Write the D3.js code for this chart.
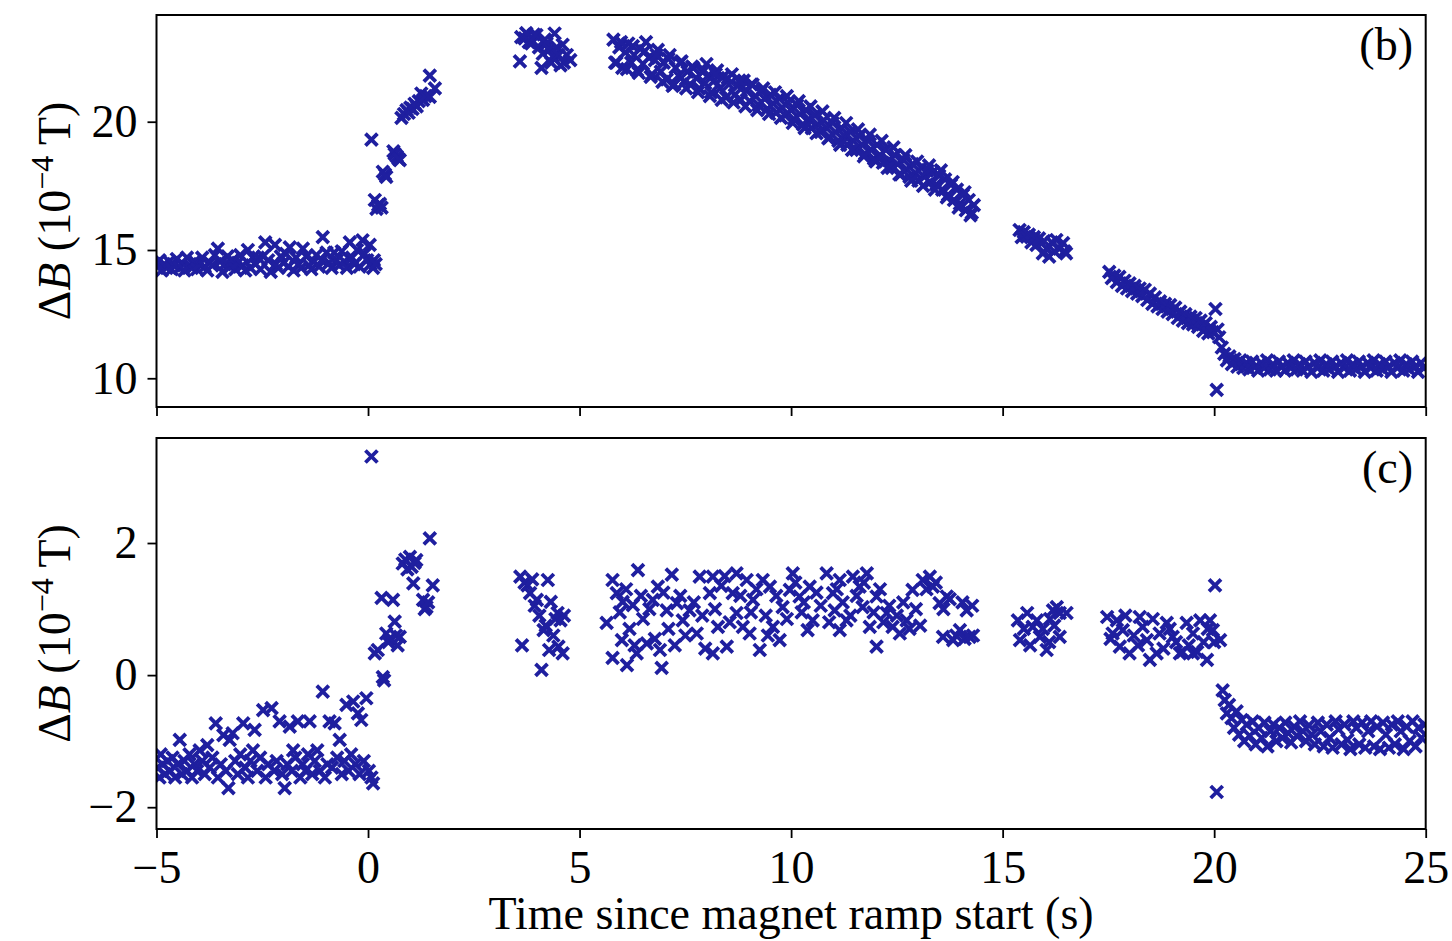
<!DOCTYPE html>
<html><head><meta charset="utf-8">
<script src="https://cdn.jsdelivr.net/npm/d3@7"></script>
<style>body{margin:0;background:#fff}</style>
</head><body><svg id="chart" width="1452" height="941"></svg>
<script>
// ---------- data ----------
const xTicks = [-5, 0, 5, 10, 15, 20, 25];
const bTicks = [10, 15, 20];
const cTicks = [-2, 0, 2];
const panelLabels = ["(b)", "(c)"];
const xLabel = "Time since magnet ramp start (s)";

// Panel (b): [time (s), ΔB (1e-4 T)]
const bPre = [[-4.98,14.35],[-4.93,14.6],[-4.88,14.2],[-4.82,14.45],[-4.76,14.3],[-4.7,14.55],[-4.64,14.25],[-4.58,14.4],[-4.52,14.65],[-4.46,14.3],[-4.4,14.5],[-4.34,14.2],[-4.28,14.7],[-4.22,14.4],[-4.16,14.3],[-4.1,14.55],[-4.04,14.25],[-3.98,14.45],[-3.92,14.7],[-3.86,14.35],[-3.8,14.2],[-3.74,14.5],[-3.68,14.4],[-3.62,14.8],[-3.55,15.05],[-3.5,14.55],[-3.44,14.15],[-3.38,14.45],[-3.32,14.75],[-3.26,14.35],[-3.2,14.6],[-3.14,14.25],[-3.08,14.5],[-3.02,14.8],[-2.96,14.4],[-2.9,14.2],[-2.84,15.0],[-2.78,14.3],[-2.72,14.7],[-2.66,14.45],[-2.6,14.7],[-2.54,14.25],[-2.48,14.75],[-2.43,15.3],[-2.36,14.6],[-2.3,14.15],[-2.2,15.2],[-2.18,14.45],[-2.12,14.3],[-2.06,14.75],[-2.0,14.5],[-1.94,14.85],[-1.88,14.35],[-1.85,15.1],[-1.76,14.2],[-1.7,14.7],[-1.64,14.45],[-1.58,14.3],[-1.54,15.05],[-1.46,14.75],[-1.4,14.4],[-1.34,14.25],[-1.28,14.55],[-1.22,14.8],[-1.16,14.35],[-1.1,14.6],[-1.07,15.5],[-0.98,14.9],[-0.92,14.5],[-0.86,14.3],[-0.8,14.9],[-0.74,14.6],[-0.68,14.4],[-0.62,14.95],[-0.56,14.55],[-0.5,14.3],[-0.43,15.3],[-0.38,14.7],[-0.32,14.45],[-0.26,15.0],[-0.2,14.35],[-0.13,15.38],[-0.08,14.85],[-0.02,14.6],[0.04,15.2],[0.06,14.45],[0.12,14.3],[0.14,14.6],[0.18,14.45]];
const bRamp = [[0.08,19.3],[0.16,16.95],[0.2,16.6],[0.24,16.75],[0.28,16.8],[0.32,16.65],[0.35,18.05],[0.4,17.95],[0.43,17.85],[0.6,18.85],[0.63,18.75],[0.68,18.65],[0.72,18.55],[0.75,18.5],[0.79,20.15],[0.85,20.3],[0.91,20.45],[0.96,20.35],[1.0,20.55],[1.05,20.5],[1.1,20.7],[1.15,20.6],[1.2,20.8],[1.26,21.1],[1.3,20.85],[1.36,21.0],[1.46,21.8],[1.46,20.97],[1.58,21.3]];
const bSeg3 = [[3.59,22.35],[3.62,23.3],[3.7,23.25],[3.74,23.45],[3.8,23.1],[3.86,23.05],[3.92,23.4],[3.98,23.38],[4.04,22.9],[4.1,22.1],[4.13,22.65],[4.18,23.2],[4.22,23.05],[4.28,22.8],[4.33,22.3],[4.37,22.55],[4.41,23.44],[4.46,22.9],[4.5,22.6],[4.55,22.2],[4.6,23.0],[4.63,22.3],[4.7,22.6],[4.78,22.4]];
const bSeg4 = [[5.8,23.2],[5.87,22.3],[5.94,22.9],[6.01,22.1],[6.08,22.7],[6.15,23.05],[6.22,22.3],[6.29,22.6],[6.36,22.0],[6.43,22.85],[6.5,22.25],[6.57,23.1],[6.64,22.5],[6.71,21.85],[6.78,22.4],[6.85,22.8],[6.92,21.95],[6.99,22.3],[7.06,21.65],[7.13,22.6],[7.2,21.4],[7.27,22.1],[7.34,21.8],[7.41,22.35],[7.48,21.55],[7.55,21.95],[7.62,21.45],[7.69,22.1],[7.76,21.7],[7.83,21.3],[7.9,21.95],[7.97,21.5],[8.0,22.25],[8.04,21.8],[8.11,21.15],[8.18,21.6],[8.25,22.0],[8.32,21.3],[8.39,21.75],[8.46,20.95],[8.53,21.45],[8.6,21.85],[8.67,21.05],[8.74,21.4],[8.81,20.85],[8.88,21.6],[8.95,21.2],[9.02,20.8],[9.09,21.45],[9.16,21.0],[9.23,20.65],[9.3,21.2],[9.37,20.9],[9.44,20.5],[9.51,21.05],[9.58,20.7],[9.65,20.35],[9.72,20.9],[9.79,20.55],[9.86,20.25],[9.93,20.75],[10.0,20.45],[10.07,20.1],[10.14,20.65],[10.21,20.3],[10.28,19.9],[10.35,20.45],[10.42,20.1],[10.49,19.75],[10.56,20.25],[10.63,19.9],[10.7,19.6],[10.77,20.05],[10.84,19.75],[10.91,19.4],[10.98,19.95],[11.05,19.6],[11.12,19.25],[11.19,19.75],[11.26,19.45],[11.33,19.1],[11.4,19.6],[11.47,19.25],[11.54,18.9],[11.61,19.45],[11.68,19.1],[11.75,18.75],[11.82,19.25],[11.89,18.9],[11.96,18.55],[12.03,19.1],[12.1,18.7],[12.17,18.4],[12.24,18.9],[12.31,18.5],[12.38,18.2],[12.45,18.7],[12.52,18.35],[12.59,17.95],[12.66,18.5],[12.73,18.15],[12.8,17.85],[12.87,18.35],[12.94,18.0],[13.01,17.7],[13.08,18.2],[13.15,17.85],[13.22,18.1],[13.29,17.65],[13.36,18.05],[13.43,17.55],[13.5,17.9],[13.57,17.35],[13.64,17.75],[13.71,17.15],[13.78,17.55],[13.85,16.95],[13.92,17.35],[13.99,16.8],[14.06,17.15],[14.13,16.55],[14.2,16.95],[14.27,16.45],[14.32,16.75]];
const bSeg4Edge = [[5.84,22.3],[5.98,23.1],[6.12,22.05],[6.26,22.95],[6.4,21.9],[6.54,22.75],[6.68,21.75],[6.82,22.6],[6.96,21.55],[7.1,22.45],[7.24,21.45],[7.38,22.3],[7.52,21.3],[7.66,22.15],[7.8,21.15],[7.94,22.0],[8.08,21.0],[8.22,21.85],[8.36,20.85],[8.5,21.7],[8.64,20.75],[8.78,21.6],[8.92,20.6],[9.06,21.45],[9.2,20.45],[9.34,21.3],[9.48,20.3],[9.62,21.15],[9.76,20.15],[9.9,21.0],[10.04,19.95],[10.18,20.8],[10.32,19.75],[10.46,20.6],[10.6,19.55],[10.74,20.4],[10.88,19.35],[11.02,20.15],[11.16,19.1],[11.3,19.95],[11.44,18.9],[11.58,19.7],[11.72,18.65],[11.86,19.5],[12.0,18.45],[12.14,19.25],[12.28,18.2],[12.42,19.0],[12.56,17.95],[12.7,18.7],[12.84,17.7],[12.98,18.45],[13.12,17.5],[13.26,18.3],[13.4,17.35],[13.54,18.1],[13.68,17.05],[13.82,17.65],[13.96,16.65],[14.1,17.25],[14.24,16.35]];
const bSeg5 = [[15.4,15.78],[15.45,15.5],[15.5,15.7],[15.57,15.52],[15.62,15.6],[15.68,15.3],[15.74,15.5],[15.8,15.2],[15.86,15.45],[15.95,14.87],[15.98,15.35],[16.04,15.05],[16.1,14.74],[16.16,15.3],[16.22,14.95],[16.27,15.39],[16.34,15.05],[16.43,15.27],[16.46,14.95],[16.5,14.87]];
const bSeg6 = [[17.52,14.15],[17.58,13.9],[17.64,14.0],[17.7,13.75],[17.76,13.95],[17.82,13.6],[17.88,13.8],[17.94,13.5],[18.0,13.7],[18.06,13.4],[18.12,13.6],[18.18,13.3],[18.24,13.5],[18.3,13.2],[18.36,13.45],[18.42,13.05],[18.48,13.3],[18.54,12.9],[18.6,13.15],[18.66,12.8],[18.72,13.0],[18.78,12.7],[18.84,12.9],[18.9,12.6],[18.96,12.85],[19.02,12.5],[19.08,12.75],[19.14,12.35],[19.2,12.6],[19.26,12.25],[19.32,12.5],[19.38,12.15],[19.44,12.4],[19.5,12.1],[19.56,12.35],[19.62,12.0],[19.68,12.25],[19.74,11.85],[19.8,12.15],[19.86,11.75],[19.92,12.0],[19.97,11.8],[20.03,12.7],[20.06,9.55],[20.08,11.9],[20.12,11.6]];
const bSeg7 = [[20.18,11.2],[20.24,10.95],[20.3,10.7],[20.36,10.85],[20.42,10.55],[20.48,10.75],[20.55,10.45],[20.62,10.7],[20.69,10.4],[20.76,10.6],[20.83,10.35],[20.9,10.65],[20.97,10.45],[21.04,10.3],[21.11,10.6],[21.18,10.4],[21.25,10.7],[21.32,10.35],[21.39,10.55],[21.46,10.3],[21.53,10.65],[21.6,10.45],[21.67,10.3],[21.74,10.6],[21.81,10.4],[21.88,10.7],[21.95,10.35],[22.02,10.55],[22.09,10.3],[22.16,10.65],[22.23,10.45],[22.3,10.25],[22.37,10.6],[22.44,10.4],[22.51,10.7],[22.58,10.3],[22.65,10.55],[22.72,10.35],[22.79,10.65],[22.86,10.45],[22.93,10.25],[23.0,10.6],[23.07,10.4],[23.14,10.7],[23.21,10.3],[23.28,10.55],[23.35,10.35],[23.42,10.65],[23.49,10.45],[23.56,10.25],[23.63,10.6],[23.7,10.4],[23.77,10.7],[23.84,10.3],[23.91,10.55],[23.98,10.35],[24.05,10.65],[24.12,10.45],[24.19,10.25],[24.26,10.6],[24.33,10.4],[24.4,10.7],[24.47,10.3],[24.54,10.55],[24.61,10.35],[24.68,10.65],[24.75,10.45],[24.82,10.25],[24.89,10.6],[24.96,10.4]];

// Panel (c): [time (s), ΔB residual (1e-4 T)]
const cPre = [[-4.98,-1.4],[-4.93,-1.55],[-4.9,-1.2],[-4.86,-1.35],[-4.8,-1.5],[-4.74,-1.3],[-4.68,-1.45],[-4.62,-1.25],[-4.56,-1.55],[-4.5,-1.35],[-4.45,-0.98],[-4.4,-1.5],[-4.34,-1.3],[-4.28,-1.45],[-4.22,-1.2],[-4.16,-1.55],[-4.1,-1.35],[-4.04,-1.45],[-3.98,-1.14],[-3.92,-1.3],[-3.86,-1.5],[-3.8,-1.06],[-3.74,-1.4],[-3.68,-1.25],[-3.6,-0.73],[-3.55,-1.55],[-3.48,-1.35],[-3.42,-0.91],[-3.36,-1.45],[-3.3,-1.71],[-3.27,-0.98],[-3.2,-0.88],[-3.14,-1.3],[-3.08,-1.5],[-3.02,-1.2],[-2.95,-0.73],[-2.9,-1.4],[-2.84,-1.55],[-2.78,-1.3],[-2.72,-1.14],[-2.68,-0.83],[-2.62,-1.45],[-2.55,-1.25],[-2.48,-0.53],[-2.42,-1.55],[-2.36,-1.35],[-2.28,-0.5],[-2.22,-1.45],[-2.16,-1.3],[-2.09,-0.7],[-2.03,-1.5],[-1.97,-1.71],[-1.91,-1.35],[-1.85,-0.78],[-1.8,-1.45],[-1.77,-1.14],[-1.72,-1.25],[-1.66,-0.7],[-1.6,-1.55],[-1.54,-1.35],[-1.48,-1.45],[-1.42,-1.2],[-1.38,-0.7],[-1.32,-1.5],[-1.26,-1.3],[-1.2,-1.14],[-1.14,-1.45],[-1.07,-0.25],[-1.02,-1.55],[-0.96,-1.35],[-0.91,-0.7],[-0.85,-1.4],[-0.79,-0.73],[-0.73,-1.25],[-0.67,-0.98],[-0.62,-1.5],[-0.56,-1.3],[-0.51,-0.45],[-0.46,-1.45],[-0.4,-1.2],[-0.35,-0.4],[-0.3,-1.35],[-0.24,-0.58],[-0.2,-1.5],[-0.16,-0.68],[-0.1,-1.3],[-0.04,-0.35],[0.02,-1.45],[0.08,-1.55],[0.12,-1.64]];
const cRamp = [[0.08,3.31],[0.16,0.33],[0.23,0.38],[0.32,1.17],[0.35,-0.03],[0.38,-0.08],[0.43,0.63],[0.48,0.5],[0.51,0.55],[0.59,1.14],[0.63,0.81],[0.66,0.6],[0.7,0.45],[0.75,0.58],[0.82,1.69],[0.88,1.75],[0.93,1.6],[0.99,1.79],[1.03,1.64],[1.07,1.39],[1.1,1.7],[1.14,1.74],[1.3,1.14],[1.34,1.0],[1.38,1.03],[1.42,1.1],[1.46,2.07],[1.53,1.36]];
const cSeg3 = [[3.6,1.49],[3.64,0.45],[3.7,1.4],[3.77,1.36],[3.83,1.24],[3.88,1.45],[3.94,1.05],[3.99,1.14],[4.05,0.9],[4.1,0.08],[4.15,0.68],[4.2,0.75],[4.25,1.44],[4.28,0.38],[4.32,1.11],[4.38,0.6],[4.43,0.85],[4.48,0.94],[4.5,0.43],[4.55,0.83],[4.6,0.33],[4.63,0.9]];
const cSeg4 = [[5.64,0.79],[5.78,1.44],[5.78,0.26],[5.88,1.24],[5.95,0.95],[6.0,0.53],[6.02,1.11],[6.1,1.3],[6.12,0.15],[6.18,0.7],[6.26,1.06],[6.3,0.45],[6.35,0.33],[6.38,1.59],[6.45,1.2],[6.5,0.85],[6.59,0.48],[6.65,1.0],[6.73,1.14],[6.78,0.55],[6.85,1.34],[6.9,0.38],[6.94,0.11],[6.98,1.25],[7.06,0.98],[7.1,0.7],[7.18,1.52],[7.25,0.45],[7.3,1.09],[7.38,1.2],[7.44,0.83],[7.5,0.6],[7.6,0.98],[7.7,1.1],[7.77,0.63],[7.84,1.49],[7.9,0.9],[7.97,0.4],[8.08,1.24],[8.15,1.49],[8.15,0.33],[8.2,1.0],[8.27,0.73],[8.35,1.35],[8.43,1.5],[8.48,0.43],[8.55,0.8],[8.62,1.24],[8.71,1.54],[8.71,0.94],[8.8,1.2],[8.86,0.73],[8.95,1.44],[9.02,0.63],[9.05,0.95],[9.1,1.14],[9.18,1.3],[9.26,0.38],[9.33,1.44],[9.4,0.9],[9.45,0.6],[9.5,1.34],[9.57,0.73],[9.65,1.2],[9.73,0.53],[9.8,1.03],[9.9,0.85],[9.97,1.29],[10.04,1.54],[10.1,1.4],[10.2,1.19],[10.25,0.95],[10.3,1.1],[10.39,0.68],[10.44,1.34],[10.51,0.83],[10.6,1.25],[10.7,1.05],[10.84,1.54],[10.9,0.8],[10.99,1.24],[11.03,0.98],[11.08,1.3],[11.15,1.44],[11.15,0.68],[11.22,1.1],[11.31,0.83],[11.4,0.9],[11.46,1.49],[11.55,1.2],[11.62,1.34],[11.69,1.03],[11.72,1.4],[11.79,1.54],[11.86,0.73],[11.95,0.95],[12.02,0.43],[12.02,1.19],[12.1,1.3],[12.18,0.8],[12.26,0.94],[12.32,1.05],[12.4,0.73],[12.5,0.9],[12.57,0.63],[12.65,1.1],[12.73,0.83],[12.8,0.7],[12.87,1.29],[12.95,1.0],[13.05,0.75],[13.11,1.44],[13.2,1.3],[13.28,1.49],[13.35,1.34],[13.42,1.4],[13.51,1.09],[13.59,0.58],[13.6,1.0],[13.68,1.19],[13.75,1.15],[13.83,0.53],[13.9,0.6],[13.99,0.68],[14.05,1.1],[14.1,0.55],[14.15,0.98],[14.22,0.58],[14.28,1.05],[14.3,0.6]];
const cSeg5 = [[15.36,0.83],[15.41,0.53],[15.5,0.7],[15.58,0.94],[15.65,0.45],[15.71,0.73],[15.81,0.83],[15.88,0.58],[15.95,0.7],[16.04,0.38],[16.1,0.5],[16.12,0.85],[16.19,0.98],[16.22,0.75],[16.28,1.03],[16.35,0.94],[16.35,0.58],[16.51,0.94]];
const cSeg6 = [[17.47,0.88],[17.55,0.55],[17.6,0.63],[17.7,0.83],[17.77,0.43],[17.84,0.68],[17.9,0.9],[18.0,0.33],[18.1,0.6],[18.2,0.45],[18.24,0.88],[18.31,0.73],[18.41,0.53],[18.48,0.23],[18.55,0.85],[18.64,0.33],[18.71,0.63],[18.8,0.4],[18.88,0.79],[18.95,0.7],[19.02,0.58],[19.1,0.5],[19.19,0.33],[19.25,0.35],[19.35,0.79],[19.4,0.45],[19.5,0.63],[19.5,0.33],[19.6,0.35],[19.67,0.83],[19.75,0.5],[19.83,0.23],[19.85,0.7],[19.9,0.83],[19.97,0.68],[20.0,0.5],[20.02,1.36],[20.06,-1.77],[20.14,0.53]];
const cSeg7 = [[20.2,-0.23],[20.25,-0.38],[20.3,-0.58],[20.35,-0.45],[20.41,-0.65],[20.47,-0.8],[20.53,-0.55],[20.59,-0.9],[20.65,-0.68],[20.71,-1.0],[20.77,-0.75],[20.84,-0.92],[20.91,-0.7],[20.98,-1.05],[21.05,-0.8],[21.12,-0.95],[21.19,-0.72],[21.26,-1.08],[21.33,-0.85],[21.4,-0.75],[21.47,-1.0],[21.54,-0.8],[21.61,-0.95],[21.68,-0.72],[21.75,-0.88],[21.82,-1.02],[21.89,-0.78],[21.96,-0.92],[22.03,-0.7],[22.1,-0.85],[22.17,-1.0],[22.24,-0.76],[22.31,-0.9],[22.38,-1.05],[22.45,-0.72],[22.52,-0.85],[22.59,-1.08],[22.66,-0.75],[22.73,-0.95],[22.8,-1.1],[22.87,-0.7],[22.94,-0.82],[23.01,-1.05],[23.08,-0.75],[23.15,-0.98],[23.22,-1.12],[23.29,-0.7],[23.36,-0.8],[23.43,-1.05],[23.5,-0.72],[23.57,-1.1],[23.64,-0.85],[23.71,-0.7],[23.78,-1.08],[23.85,-0.78],[23.92,-1.12],[23.99,-0.72],[24.06,-0.9],[24.13,-1.1],[24.2,-0.75],[24.27,-1.05],[24.34,-0.7],[24.41,-0.85],[24.48,-1.12],[24.55,-0.78],[24.62,-1.0],[24.69,-0.7],[24.76,-1.08],[24.83,-0.8],[24.9,-0.95],[24.97,-0.75]];

const panelB = [].concat(bPre, bRamp, bSeg3, bSeg4, bSeg4Edge, bSeg5, bSeg6, bSeg7);
const panelC = [].concat(cPre, cRamp, cSeg3, cSeg4, cSeg5, cSeg6, cSeg7);

// ---------- drawing ----------
const FONT = "'Liberation Serif','Times New Roman',Times,serif";
const COLOR = "#1f1f9f";
const FS = 46;
const svg = d3.select("#chart").style("font-family", FONT);
const left = 156.5, right = 1425.7;
const x = d3.scaleLinear().domain([-5, 25]).range([left, right]);

const panels = [
  {data: panelB, ticks: bTicks, top: 15, bottom: 407, domain: [8.88, 24.16], label: panelLabels[0], showX: false},
  {data: panelC, ticks: cTicks, top: 438, bottom: 829, domain: [-2.33, 3.59], label: panelLabels[1], showX: true}
];

panels.forEach((p, i) => {
  const y = d3.scaleLinear().domain(p.domain).range([p.bottom, p.top]);
  const g = svg.append("g");
  const clipId = "clip" + i;
  svg.append("clipPath").attr("id", clipId).append("rect")
    .attr("x", left).attr("y", p.top).attr("width", right - left).attr("height", p.bottom - p.top);

  g.append("g").attr("clip-path", `url(#${clipId})`)
    .selectAll("path").data(p.data).join("path")
    .attr("transform", d => `translate(${x(d[0])},${y(d[1])})`)
    .attr("d", "M-6,-6L6,6M-6,6L6,-6")
    .attr("stroke", COLOR).attr("stroke-width", 3.8).attr("fill", "none");

  const yAxis = d3.axisLeft(y).tickValues(p.ticks).tickSize(9).tickPadding(10).tickFormat(d3.format("d"));
  const ya = g.append("g").attr("transform", `translate(${left},0)`).call(yAxis);
  const xAxis = d3.axisBottom(x).tickValues(xTicks).tickSize(9).tickPadding(12).tickFormat(d3.format("d"));
  if (!p.showX) xAxis.tickFormat("");
  const xa = g.append("g").attr("transform", `translate(0,${p.bottom})`).call(xAxis);
  [ya, xa].forEach(a => {
    a.select(".domain").remove();
    a.selectAll(".tick line").attr("stroke", "#000").attr("stroke-width", 1.8);
    a.selectAll(".tick text").attr("fill", "#000").style("font-size", FS + "px").style("font-family", FONT);
  });

  g.append("rect").attr("x", left).attr("y", p.top)
    .attr("width", right - left).attr("height", p.bottom - p.top)
    .attr("fill", "none").attr("stroke", "#000").attr("stroke-width", 2);

  g.append("text").attr("x", 1413).attr("y", p.top + 45)
    .attr("text-anchor", "end").style("font-size", FS + "px").text(p.label);

  const yl = g.append("text")
    .attr("transform", `translate(70,${(p.top + p.bottom) / 2}) rotate(-90)`)
    .attr("text-anchor", "middle").style("font-size", FS + "px");
  yl.append("tspan").text("Δ");
  yl.append("tspan").style("font-style", "italic").text("B");
  yl.append("tspan").text(" (10");
  yl.append("tspan").attr("dy", -17).style("font-size", "32px").text("−4");
  yl.append("tspan").attr("dy", 17).text(" T)");
});

svg.append("text").attr("x", (left + right) / 2).attr("y", 929)
  .attr("text-anchor", "middle").style("font-size", FS + "px").text(xLabel);
</script>
</body></html>
